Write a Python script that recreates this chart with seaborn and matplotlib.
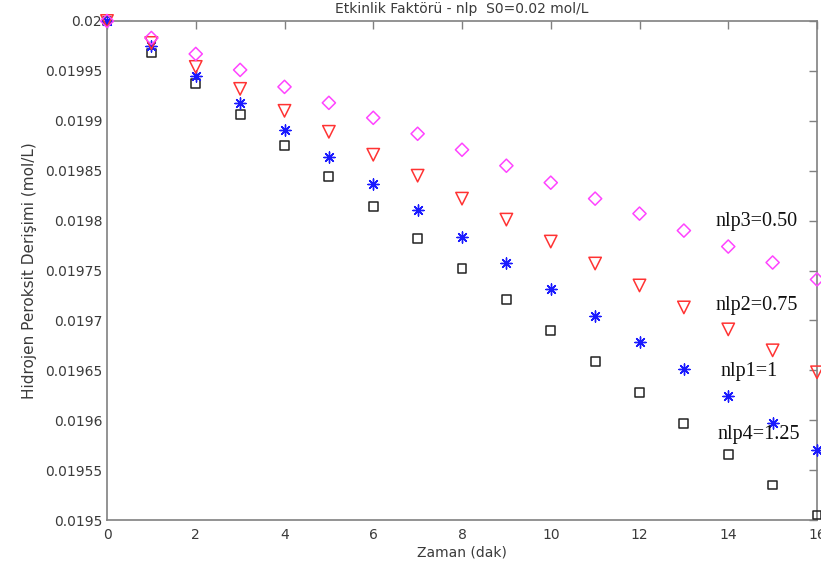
import numpy as np
import pandas as pd
import matplotlib
matplotlib.use("Agg")
import matplotlib.pyplot as plt
import seaborn as sns

# ---- data ----
zaman = list(range(0, 17))
nlp3_050 = [0.02, 0.019983, 0.019967, 0.019951, 0.019934, 0.019918, 0.019903, 0.019887,
            0.019871, 0.019855, 0.019838, 0.019822, 0.019807, 0.019790, 0.019774, 0.019758, 0.019741]
nlp2_075 = [0.02, 0.019978, 0.019954, 0.019932, 0.019910, 0.019889, 0.019866, 0.019845,
            0.019822, 0.019801, 0.019779, 0.019757, 0.019735, 0.019713, 0.019691, 0.019670, 0.019648]
nlp1_1 = [0.02, 0.019975, 0.019945, 0.019918, 0.019891, 0.019864, 0.019837, 0.019811,
          0.019784, 0.019758, 0.019731, 0.019704, 0.019678, 0.019651, 0.019624, 0.019597, 0.019570]
nlp4_125 = [0.02, 0.019968, 0.019937, 0.019906, 0.019875, 0.019844, 0.019814, 0.019782,
            0.019752, 0.019721, 0.019690, 0.019659, 0.019628, 0.019597, 0.019566, 0.019535, 0.019505]

series_labels = ["nlp3=0.50", "nlp2=0.75", "nlp1=1", "nlp4=1.25"]
label_pos = [(13.72, 0.019799), (13.72, 0.019715), (13.82, 0.019649), (13.75, 0.019586)]

xticks = [0, 2, 4, 6, 8, 10, 12, 14, 16]
yticks = [0.0195, 0.01955, 0.0196, 0.01965, 0.0197, 0.01975, 0.0198, 0.01985, 0.0199, 0.01995, 0.02]
ytick_labels = ["0.0195", "0.01955", "0.0196", "0.01965", "0.0197", "0.01975",
                "0.0198", "0.01985", "0.0199", "0.01995", "0.02"]

title = "Etkinlik Faktörü - nlp  S0=0.02 mol/L"
xlabel = "Zaman (dak)"
ylabel = "Hidrojen Peroksit Derişimi (mol/L)"

sns.set_style("white")
plt.rcParams["font.family"] = ["DejaVu Sans"]

fig = plt.figure(figsize=(8.21, 5.79), dpi=100)
ax = fig.add_axes([107 / 821, 1 - 520 / 579, (817 - 107) / 821, (520 - 21) / 579])

txtc = "#3a3a3a"
spc = "#808080"

# squares (black)
sns.scatterplot(x=zaman, y=nlp4_125, marker="s", s=40, facecolor="none",
                edgecolor="#222222", linewidth=1.1, ax=ax, clip_on=False, zorder=3)
# stars (blue)
sns.scatterplot(x=zaman, y=nlp1_1, marker=(8, 2, 0), s=64, color="#1a1aff",
                linewidth=1.0, ax=ax, clip_on=False, zorder=4)
# triangles (red)
sns.scatterplot(x=zaman, y=nlp2_075, marker="v", s=80, facecolor="none",
                edgecolor="#ff3333", linewidth=1.1, ax=ax, clip_on=False, zorder=5)
# diamonds (magenta)
sns.scatterplot(x=zaman, y=nlp3_050, marker="D", s=45, facecolor="none",
                edgecolor="#ff44ff", linewidth=1.1, ax=ax, clip_on=False, zorder=6)

for lab, (lx, ly) in zip(series_labels, label_pos):
    ax.text(lx, ly, lab, family="Liberation Serif", fontsize=14.5, color="#111111",
            ha="left", va="center", zorder=7)

ax.set_xlim(0, 16)
ax.set_ylim(0.0195, 0.02)
ax.set_xticks(xticks)
ax.set_xticklabels([str(v) for v in xticks])
ax.set_yticks(yticks, labels=ytick_labels)

ax.tick_params(direction="in", length=6, width=1, color=spc, labelcolor=txtc,
               labelsize=10, top=True, right=True)
ax.tick_params(axis="x", pad=6)
for sp in ax.spines.values():
    sp.set_visible(True)
    sp.set_color(spc)
    sp.set_linewidth(1.2)

ax.set_title(title, fontsize=10, color=txtc, pad=6)
ax.set_xlabel(xlabel, fontsize=10, color=txtc, labelpad=2)
ax.set_ylabel(ylabel, fontsize=11, color=txtc, labelpad=6)

fig.savefig("out.png", dpi=100)
